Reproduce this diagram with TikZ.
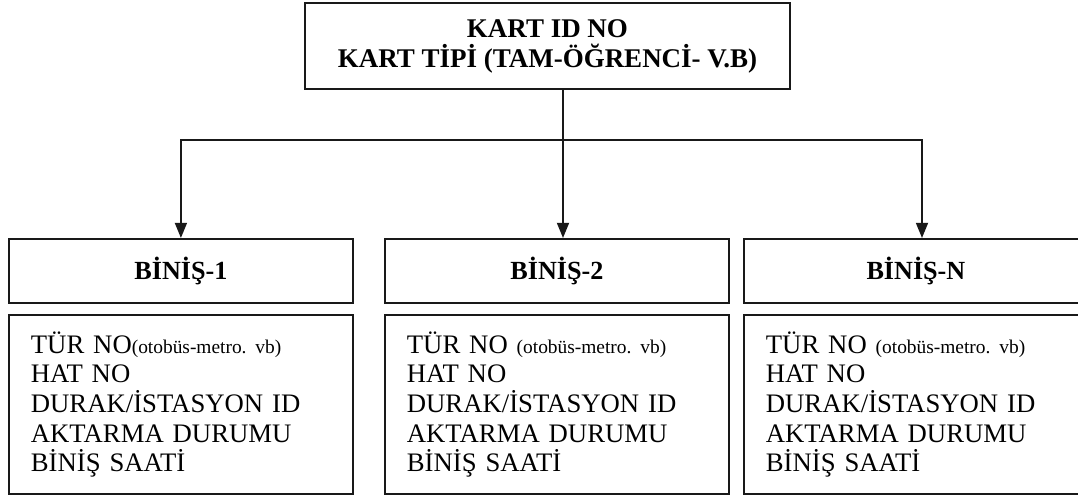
\documentclass[tikz,border=0pt]{standalone}
\usepackage{fontspec}
\setmainfont{Liberation Serif}
\frenchspacing
\usetikzlibrary{arrows.meta,calc}

\tikzset{
	kutu/.style={draw=black!90, line width=1.3pt, rectangle, inner sep=0pt},
	baslik/.style={kutu, font=\bfseries\fontsize{18.6}{21}\selectfont, minimum width=8.6cm, minimum height=1.6cm, anchor=north west},
	bilgi/.style={kutu, font=\fontsize{19}{21.1}\selectfont, text width=7.5cm, inner xsep=0.55cm, align=left, minimum height=4.475cm, anchor=north west},
	ok/.style={draw=black!90, line width=1.3pt, -{Triangle[width=0.3cm, length=0.38cm]}}
}
\newcommand{\kucuk}[1]{{\fontsize{13.8}{15}\selectfont #1}}

\begin{document}
\begin{tikzpicture}
		%%%%% START %%%%%
		\clip (0, 0) rectangle (26.95, 12.425);
		
		\node[kutu, font=\bfseries\fontsize{19.2}{21.3}\selectfont, align=center, minimum width=12.125cm, minimum height=2.15cm] (kart) at (13.6875, 11.275) {KART ID NO\\KART TİPİ (TAM-ÖĞRENCİ- V.B)};
		
		\node[baslik] (binis1) at (0.2, 6.475) {BİNİŞ-1};
		\node[baslik] (binis2) at (9.6, 6.475) {BİNİŞ-2};
		\node[baslik] (binisN) at (18.575, 6.475) {BİNİŞ-N};
		
		\node[bilgi] (bilgi1) at (0.2, 4.575) {TÜR NO\kucuk{(otobüs-metro. vb)}\\HAT NO\\DURAK/İSTASYON ID\\AKTARMA DURUMU\\BİNİŞ SAATİ};
		\node[bilgi] (bilgi2) at (9.6, 4.575) {TÜR NO \kucuk{(otobüs-metro. vb)}\\HAT NO\\DURAK/İSTASYON ID\\AKTARMA DURUMU\\BİNİŞ SAATİ};
		\node[bilgi] (bilgiN) at (18.575, 4.575) {TÜR NO \kucuk{(otobüs-metro. vb)}\\HAT NO\\DURAK/İSTASYON ID\\AKTARMA DURUMU\\BİNİŞ SAATİ};
		
		\coordinate (catal) at (14.075, 8.925);
		\draw[draw=black!90, line width=1.3pt] (kart.south -| catal) -- (catal);
		\draw[ok] (catal) -| (binis1.north);
		\draw[ok] (catal) -- (catal |- binis2.north);
		\draw[ok] (catal) -| ($(binisN.north west)+(4.475, 0)$);
		
		%%%%% END %%%%%
	\end{tikzpicture}
\end{document}
